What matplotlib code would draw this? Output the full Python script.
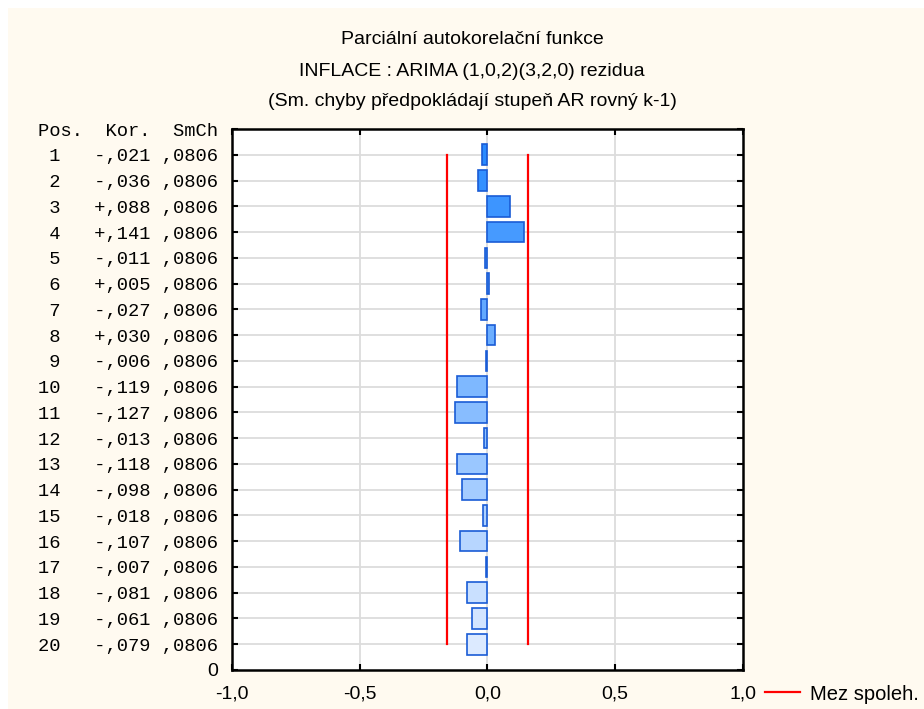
import matplotlib.pyplot as plt
import matplotlib.colors as mcolors
from matplotlib.patches import Rectangle
from matplotlib.lines import Line2D
import numpy as np

# Partial autocorrelations (lag, coefficient, std. error)
lags = list(range(1, 21))
kor = [-0.021, -0.036, 0.088, 0.141, -0.011, 0.005, -0.027, 0.030, -0.006, -0.119,
       -0.127, -0.013, -0.118, -0.098, -0.018, -0.107, -0.007, -0.081, -0.061, -0.079]
smch = [0.0806] * 20
limit = 1.96 * 0.0806

x_ticks = [-1.0, -0.5, 0.0, 0.5, 1.0]
x_labels = ['-1,0', '-0,5', '0,0', '0,5', '1,0']

titles = ['Parciální autokorelační funkce',
          'INFLACE : ARIMA (1,0,2)(3,2,0) rezidua',
          '(Sm. chyby předpokládají stupeň AR rovný k-1)']

W, H = 924, 709
fig = plt.figure(figsize=(W / 100, H / 100), dpi=100)
fig.patch.set_facecolor('white')
fig.patches.append(Rectangle((8 / W, 0), 1, 1 - 8 / H, transform=fig.transFigure,
                             facecolor='#FFFAF0', edgecolor='none', zorder=-10))

ax = fig.add_axes([232 / W, 1 - 670 / H, (743 - 232) / W, (670 - 129) / H])
ax.set_facecolor('white')

# rows: lag 1 at top
ypos = [21 - k for k in lags]

# color gradient dark blue -> light blue
c_top = np.array(mcolors.to_rgb('#2A8BFF'))
c_bot = np.array(mcolors.to_rgb('#DCEAFF'))
colors = [tuple(c_top + (c_bot - c_top) * i / 19) for i in range(20)]

ax.barh(ypos, kor, height=0.8, color=colors, edgecolor='#1A5CD6', linewidth=1.2, zorder=3)

ax.plot([-limit, -limit], [1, 20], color='#FF0000', lw=1.6, zorder=4)
ax.plot([limit, limit], [1, 20], color='#FF0000', lw=1.6, zorder=4)

ax.set_xlim(-1, 1)
ax.set_ylim(0, 21)

ax.set_xticks(x_ticks)
ax.set_xticklabels(x_labels, fontsize=14, family='Liberation Sans')

ax.set_yticks(range(0, 22))
ylabels = ['0']
for k in reversed(lags):
    v = kor[k - 1]
    s = f'{v:+.3f}'.replace('0.', ',', 1)
    e = f'{smch[k - 1]:.4f}'.replace('0.', ',', 1)
    ylabels.append(f'{k:>2}   {s} {e}')
ylabels.append('Pos.  Kor.  SmCh')
ax.set_yticklabels(ylabels, family='Liberation Mono', fontsize=13.5)
ylab_objs = ax.get_yticklabels()
ylab_objs[0].set_family('Liberation Sans')
ylab_objs[0].set_fontsize(14)

ax.tick_params(axis='both', direction='in', length=4, width=1.5,
               top=True, right=True, colors='black')
ax.tick_params(axis='y', pad=10)
ax.tick_params(axis='x', pad=11)

# grid
for y in range(1, 21):
    ax.axhline(y, color='#DCDCDC', lw=1.3, zorder=1)
for x in [-0.5, 0.0, 0.5]:
    ax.axvline(x, color='#DCDCDC', lw=1.3, zorder=1)

for sp in ax.spines.values():
    sp.set_linewidth(1.8)
    sp.set_color('black')

for i, t in enumerate(titles):
    fig.text(472 / W, 1 - (40 + 31 * i) / H, t, ha='center', va='center',
             fontsize=14, family='Liberation Sans')

handle = Line2D([], [], color='#FF0000', lw=1.6)
fig.legend([handle], ['Mez spoleh.'], loc='center left',
           bbox_to_anchor=(765 / W, 1 - 694 / H), frameon=False,
           prop={'family': 'Liberation Sans', 'size': 14.5},
           handlelength=1.75, handletextpad=0.5, borderpad=0, borderaxespad=0)

fig.savefig('out.png', dpi=100, facecolor=fig.get_facecolor())
